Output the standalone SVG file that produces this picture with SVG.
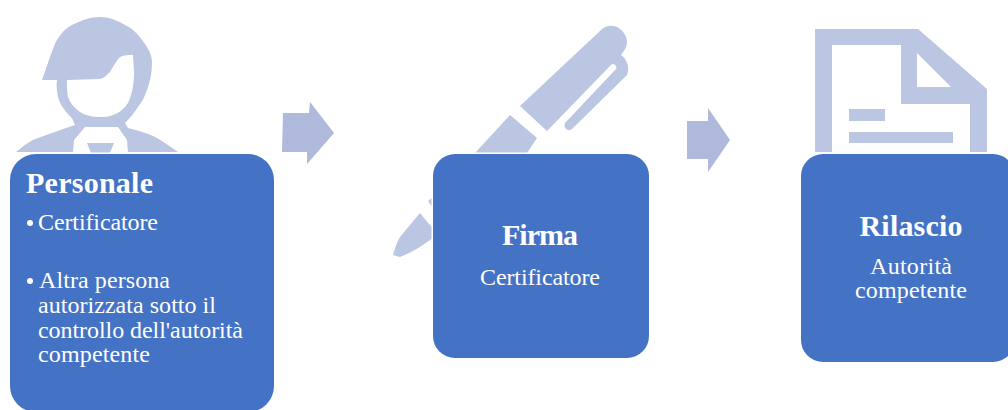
<svg xmlns="http://www.w3.org/2000/svg" width="1008" height="410" viewBox="0 0 1008 410">
<style>
.icon{fill:#BAC6E2}
.cut{fill:#FFFFFF}
.arrow{fill:#AEB9DC}
.box{fill:#4472C4;stroke:#FFFFFF;stroke-width:3;paint-order:stroke}
text{font-family:"Liberation Serif","Times New Roman",serif;fill:#FFFFFF}
.h{font-weight:bold;font-size:30px}
.b{font-size:24px}
.m{text-anchor:middle}
</style>
<rect width="1008" height="410" fill="#FFFFFF"/>
<g id="icon-person">
<path class="icon" d="M42 80 L50 57 C53 49 54 45 57 40 C62 32 66 28 72 25 C82 20 90 17 100 17 C106 17 110 18 115 20 C122 23 128 26 133 30 C139 35 143 41 147 47 C151 54 152 58 152 63 C152 72 150 82 147 90 C145 96 142 102 138 107 C134 113 130 118 125 123 L128 128 C140 131 150 134 157 138 C164 142 171 147 178 152 L16 152 C22 147 27 143 33 140 C46 135 60 130 75 125 L72 118 C65 112 60 104 58 97 C57 91 56 86 57 80 Z"/>
<path class="cut" d="M67 80 L100 79 C104 78 107 75 110 72 C113 67 116 61 120 57 C124 55 129 55 133 55 L134 72 C134 82 133 92 128 103 C124 109 119 113 113 115 C108 117 104 117 100 117 C93 117 86 116 80 112 C74 108 70 103 68 97 C67 91 67 86 67 80 Z"/>
<path class="cut" d="M85 127 L118 127 L127 140 L128 153 L73 153 L74 140 Z"/>
<path class="icon" d="M87 143 L114 143 L110 153 L91 153 Z"/>
</g>
<g id="icon-pen">
<path class="icon" d="M520 106 L600 31 C605 25 614 24 620 29 C627 34 629 43 625 49 L621 55 C627 59 630 68 627 75 L572 129 C568 132 563 128 565 123 L616 69 C618 66 613 62 611 65 L547 131 Z"/>
<path class="icon" d="M510 115 L537 138 L527 153 L475 153 Z"/>
<path class="icon" d="M428 201 L433 197 L433 208 Z"/>
<path class="icon" d="M420 213 C424 218 429 224 433 228 L433 238 C422 246 411 253 400 257 L393 255 C395 248 397 242 400 237 Z"/>
</g>
<g id="icon-document">
<path class="icon" fill-rule="evenodd" d="M815 29 L918 29 L987 89 L987 152 L970 152 L970 104 L901 104 L901 45 L832 45 L832 152 L815 152 Z M917 53 L951 87 L917 87 Z"/>
<rect class="icon" x="849" y="109" width="36" height="12"/>
<rect class="icon" x="849" y="132" width="104" height="11"/>
</g>
<g id="connectors">
<polygon class="arrow" points="283,113 309,113 310,102 334,133 307,164 307,152 282,152"/>
<polygon class="arrow" points="687,121 708,121 708,108 730,140 708,172 708,159 687,159"/>
</g>
<g id="node-personale">
<rect class="box" x="10" y="154" width="264" height="258" rx="26"/>
<text class="h" x="26" y="193" textLength="127">Personale</text>
<circle class="cut" cx="30" cy="223" r="3"/>
<text class="b" x="38" y="230" textLength="120">Certificatore</text>
<circle class="cut" cx="30" cy="281" r="3"/>
<text class="b" x="39" y="288" textLength="131">Altra persona</text>
<text class="b" x="38" y="313" textLength="178">autorizzata sotto il</text>
<text class="b" x="38" y="338" textLength="205">controllo dell'autorità</text>
<text class="b" x="38" y="362" textLength="112">competente</text>
</g>
<g id="node-firma">
<rect class="box" x="433" y="154" width="216" height="204" rx="22"/>
<text class="h m" x="540" y="245" textLength="76">Firma</text>
<text class="b m" x="540" y="285" textLength="120">Certificatore</text>
</g>
<g id="node-rilascio">
<rect class="box" x="801" y="154" width="214" height="208" rx="22"/>
<text class="h m" x="911" y="236" textLength="103">Rilascio</text>
<text class="b m" x="911" y="274" textLength="82">Autorità</text>
<text class="b m" x="911" y="298" textLength="112">competente</text>
</g>
</svg>
